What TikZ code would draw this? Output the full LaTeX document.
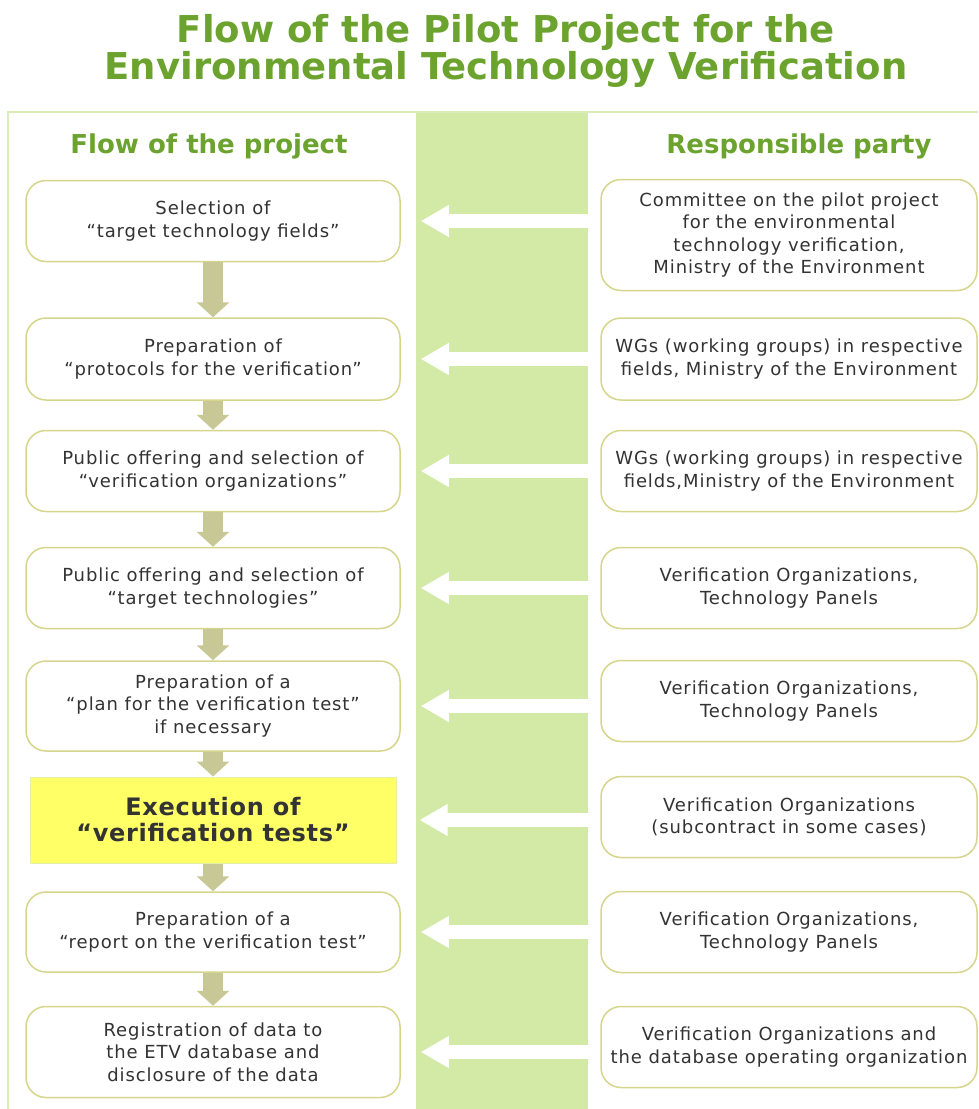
\documentclass[tikz,border=0pt]{standalone}
\usepackage{fontspec}
\setmainfont{DejaVu Sans}
\newfontfamily\bodyfont[LetterSpace=5]{DejaVu Sans}
\newfontfamily\execfont[LetterSpace=3]{DejaVu Sans}
\usetikzlibrary{arrows.meta,positioning,calc}

\definecolor{titlegreen}{HTML}{6BA32E}
\definecolor{bandgreen}{HTML}{D2EAA5}
\definecolor{framegreen}{HTML}{D8EDB8}
\definecolor{boxline}{HTML}{D5D58C}
\definecolor{flowkhaki}{HTML}{C8C896}
\definecolor{execyellow}{HTML}{FFFF66}
\definecolor{execline}{HTML}{E2F0A8}
\definecolor{bodytext}{HTML}{333333}

\tikzset{
    flowbox/.style={draw=boxline, line width=1.5pt, rounded corners=20pt,
        fill=white, minimum width=374pt, minimum height=81pt, inner sep=0pt,
        align=center, text=bodytext, font=\bodyfont\fontsize{18}{22.5}\selectfont},
    partybox/.style={flowbox, minimum width=376pt},
    execbox/.style={draw=execline, line width=1pt, fill=execyellow,
        minimum width=366pt, minimum height=86pt, inner sep=0pt, align=center,
        text=bodytext, font=\execfont\bfseries\fontsize{24}{26}\selectfont},
    flow arrow/.style={draw=flowkhaki, line width=20pt,
        -{Triangle[width=32pt,length=15pt]}},
    party arrow/.style={draw=white, line width=14pt,
        -{Triangle[width=30pt,length=28pt]}},
    heading/.style={text=titlegreen, font=\bfseries\fontsize{26}{30}\selectfont}
}

\begin{document}
\begin{tikzpicture}[x=1pt,y=-1pt]
    \useasboundingbox (0,0) rectangle (978,1109);
    % Title
    \node[text=titlegreen, align=center,
        font=\bfseries\fontsize{37}{36}\selectfont] (title) at (506,51)
        {Flow of the Pilot Project for the\\Environmental Technology Verification};
    % Frame and middle band
    \fill[bandgreen] (416,112) rectangle (588,1109);
    \draw[framegreen, line width=2pt] (8,1109) -- (8,112) -- (978,112);
    \coordinate (bandedge) at (588,0);
    % Column headings
    \node[heading] (flowhead) at (209,146) {Flow of the project};
    \node[heading] (partyhead) at (799,146) {Responsible party};
    % Flow of the project
    \node[flowbox] (fields) at (213,221) {Selection of\\“target technology fields”};
    \node[flowbox, minimum height=82pt] (protocols) at (213,359) {Preparation of\\“protocols for the verification”};
    \node[flowbox] (orgs) at (213,471) {Public offering and selection of\\“verification organizations”};
    \node[flowbox] (techs) at (213,588) {Public offering and selection of\\“target technologies”};
    \node[flowbox, minimum height=90pt] (plan) at (213,706) {Preparation of a\\“plan for the verification test”\\if necessary};
    \node[execbox] (exec) at (213,820) {Execution of\\“verification tests”};
    \node[flowbox, minimum height=80pt] (report) at (213,932) {Preparation of a\\“report on the verification test”};
    \node[flowbox, minimum height=91pt] (register) at (213,1052) {Registration of data to\\the ETV database and\\disclosure of the data};
    % Responsible party
    \node[partybox, minimum height=111pt] (committee) at (789,235) {Committee on the pilot project\\for the environmental\\technology verification,\\Ministry of the Environment};
    \node[partybox, minimum height=82pt] (wgone) at (789,359) {WGs (working groups) in respective\\fields, Ministry of the Environment};
    \node[partybox] (wgtwo) at (789,471) {WGs (working groups) in respective\\fields,Ministry of the Environment};
    \node[partybox] (voone) at (789,588) {Verification Organizations,\\Technology Panels};
    \node[partybox] (votwo) at (789,701) {Verification Organizations,\\Technology Panels};
    \node[partybox] (vosub) at (789,817) {Verification Organizations\\(subcontract in some cases)};
    \node[partybox] (vothree) at (789,932) {Verification Organizations,\\Technology Panels};
    \node[partybox] (vodb) at (789,1047) {Verification Organizations and\\the database operating organization};
    % Flow arrows
    \draw[flow arrow] (fields.south) -- (protocols.north);
    \draw[flow arrow] (protocols.south) -- (orgs.north);
    \draw[flow arrow] (orgs.south) -- (techs.north);
    \draw[flow arrow] (techs.south) -- (plan.north);
    \draw[flow arrow] (plan.south) -- (exec.north);
    \draw[flow arrow] (exec.south) -- (report.north);
    \draw[flow arrow] (report.south) -- (register.north);
    % Arrows through the band
    \draw[party arrow] (fields.east -| bandedge) -- ([xshift=20pt]fields.east);
    \draw[party arrow] (protocols.east -| bandedge) -- ([xshift=20pt]protocols.east);
    \draw[party arrow] (orgs.east -| bandedge) -- ([xshift=20pt]orgs.east);
    \draw[party arrow] (techs.east -| bandedge) -- ([xshift=20pt]techs.east);
    \draw[party arrow] (plan.east -| bandedge) -- ([xshift=20pt]plan.east);
    \draw[party arrow] (exec.east -| bandedge) -- ([xshift=23pt]exec.east);
    \draw[party arrow] (report.east -| bandedge) -- ([xshift=20pt]report.east);
    \draw[party arrow] (register.east -| bandedge) -- ([xshift=20pt]register.east);
\end{tikzpicture}
\end{document}
